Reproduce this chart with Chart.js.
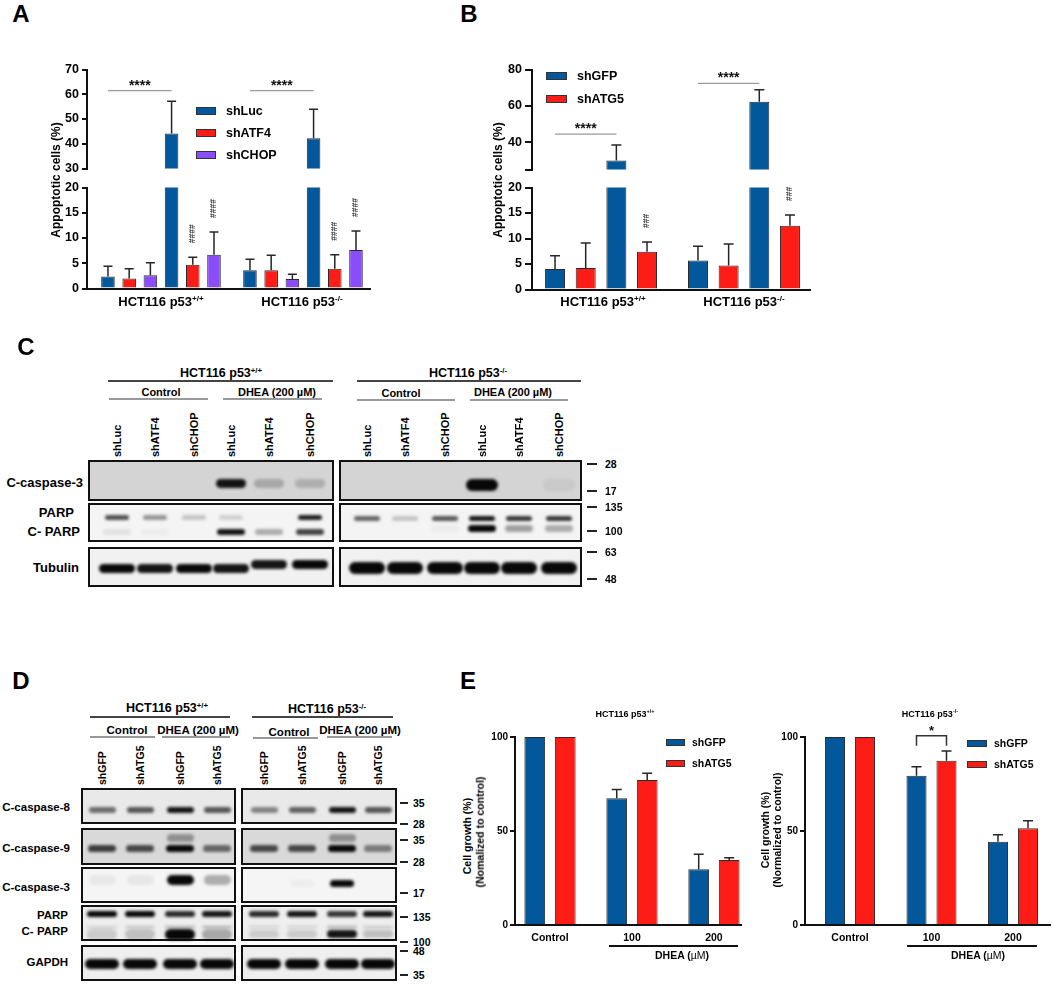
<!DOCTYPE html>
<html>
<head>
<meta charset="utf-8">
<script src="https://cdn.jsdelivr.net/npm/chart.js@4.4.1/dist/chart.umd.min.js"></script>
<style>
body { margin: 0; background: #fff; }
#fig { position: relative; width: 1052px; height: 985px; overflow: hidden; font-family: 'Liberation Sans', Arial, sans-serif; font-weight: bold; color: #000; }
#fig canvas { position: absolute; }
.t, .rt, .lt, .v, .lane { position: absolute; white-space: nowrap; line-height: 1; }
.t { transform: translate(-50%, -50%); }
.rt { transform: translate(-100%, -50%); }
.lt { transform: translate(0, -50%); }
.v { transform: translate(-50%, -50%) rotate(-90deg); }
.lane { transform-origin: 0 0; transform: rotate(-90deg) translate(0, -50%); }
.box { position: absolute; border: 2.5px solid #111; box-sizing: border-box; }
.band { position: absolute; filter: blur(1.4px); }
.hl { position: absolute; }
sup { font-size: 0.62em; vertical-align: 0.55em; line-height: 0; }
</style>
</head>
<body>
<div id="fig"></div>
<script>
const BLUE = '#03579b', RED = '#fd1d16', PURPLE = '#8b4dfb';

// A : apoptotic cells, shLuc / shATF4 / shCHOP, control then DHEA
const cellLines = ['+/+', '-/-'];
const seriesA = ['shLuc', 'shATF4', 'shCHOP', 'shLuc', 'shATF4', 'shCHOP'];
const colorsA = [BLUE, RED, PURPLE, BLUE, RED, PURPLE];
const meanA = [[2.4, 3.6], [2.0, 3.6], [2.6, 1.9], [44.1, 42.2], [4.7, 3.9], [6.7, 7.6]];
const sdA = [[2.0, 2.2], [1.9, 3.0], [2.5, 0.9], [13.1, 11.7], [1.5, 2.8], [4.5, 3.8]];
const markA = ['', '', '', '', '####', '####'];
const sigA = [{ group: 0, from: 0, to: 3, y: 61.5, text: '****' }, { group: 1, from: 0, to: 3, y: 61.5, text: '****' }];

// B : apoptotic cells, shGFP / shATG5
const seriesB = ['shGFP', 'shATG5', 'shGFP', 'shATG5'];
const colorsB = [BLUE, RED, BLUE, RED];
const meanB = [[4.0, 5.7], [4.2, 4.7], [30.0, 62.3], [7.4, 12.5]];
const sdB = [[2.6, 2.8], [4.9, 4.2], [8.5, 6.5], [1.9, 2.1]];
const markB = ['', '', '', '###'];
const sigB = [{ group: 0, from: 0, to: 2, y: 44.5, text: '****' }, { group: 1, from: 0, to: 2, y: 72.4, text: '****' }];

// E : cell growth (% of control)
const doseE = ['Control', '100', '200'];
const seriesE = ['shGFP', 'shATG5'];
const colorsE = [BLUE, RED];
const meanE1 = [[100, 67.4, 29.6], [100, 77.1, 34.6]];
const sdE1 = [[0, 4.7, 8.0], [0, 3.6, 1.2]];
const meanE2 = [[100, 79.4, 44.3], [100, 87.4, 51.4]];
const sdE2 = [[0, 4.8, 3.7], [0, 5.2, 4.1]];

// blots : band intensity per lane, [left blot, right blot]
const lanesC = ['shLuc', 'shATF4', 'shCHOP', 'shLuc', 'shATF4', 'shCHOP'];
const casp3C = [[0, 0, 0, 0.95, 0.22, 0.18], [0, 0, 0, 1, 0, 0.05]];
const parpC = [[0.7, 0.4, 0.2, 0.15, 0, 0.9], [0.6, 0.2, 0.65, 0.95, 0.8, 0.8]];
const cparpC = [[0.08, 0.03, 0, 0.95, 0.3, 0.75], [0, 0, 0.03, 1, 0.35, 0.3]];
const tubC = [[1, 0.95, 1, 0.95, 0.95, 1], [1, 1, 1, 1, 1, 1]];

const lanesD = ['shGFP', 'shATG5', 'shGFP', 'shATG5'];
const casp8D = [[0.55, 0.65, 0.95, 0.65], [0.45, 0.6, 0.95, 0.65]];
const casp9D = [[0.75, 0.7, 1, 0.55], [0.7, 0.7, 1, 0.45]];
const casp9smearD = [[0, 0, 0.35, 0], [0, 0, 0.35, 0]];
const casp3D = [[0.05, 0.06, 1, 0.3], [0, 0.03, 1, 0]];
const parpD = [[1, 1, 0.85, 0.95], [0.85, 0.95, 0.8, 0.95]];
const cparpD = [[0.15, 0.2, 1, 0.3], [0.15, 0.15, 0.95, 0.2]];
const gapdhD = [[1, 1, 1, 1], [1, 1, 1, 1]];

const fig = document.getElementById('fig');
Chart.defaults.font.family = "'Liberation Sans', Arial, sans-serif";
Chart.defaults.font.weight = 'bold';
Chart.defaults.color = '#000';

const errorBars = {
  id: 'errorBars',
  afterDatasetsDraw(chart, args, opt) {
    const ctx = chart.ctx, y = chart.scales.y;
    ctx.save();
    ctx.strokeStyle = '#262626';
    ctx.lineWidth = 1.5;
    chart.data.datasets.forEach((ds, i) => {
      chart.getDatasetMeta(i).data.forEach((bar, j) => {
        const v = ds.data[j].y, e = ds.sd[j];
        if (!e || v > y.max || v + e < y.min) return;
        const top = y.getPixelForValue(Math.min(v + e, y.max));
        const base = y.getPixelForValue(Math.max(v, y.min));
        ctx.beginPath();
        ctx.moveTo(bar.x, base);
        ctx.lineTo(bar.x, top);
        if (v + e <= y.max) {
          ctx.moveTo(bar.x - opt.capW, top);
          ctx.lineTo(bar.x + opt.capW, top);
        }
        ctx.stroke();
      });
    });
    ctx.restore();
  }
};

const annot = {
  id: 'annot',
  afterDatasetsDraw(chart, args, opt) {
    const ctx = chart.ctx, y = chart.scales.y;
    ctx.save();
    (opt.sig || []).forEach(s => {
      const x1 = chart.getDatasetMeta(s.from).data[s.group].x;
      const x2 = chart.getDatasetMeta(s.to).data[s.group].x;
      const py = y.getPixelForValue(s.y);
      ctx.strokeStyle = '#9a9a9a';
      ctx.lineWidth = 1.2;
      ctx.beginPath(); ctx.moveTo(x1, py); ctx.lineTo(x2, py); ctx.stroke();
      ctx.fillStyle = '#111';
      ctx.font = "bold 14px 'Liberation Sans'";
      ctx.textAlign = 'center';
      ctx.textBaseline = 'alphabetic';
      ctx.fillText(s.text, (x1 + x2) / 2, py - 1);
    });
    if (opt.bracket) {
      const b = opt.bracket;
      const x1 = chart.getDatasetMeta(b.from).data[b.index].x;
      const x2 = chart.getDatasetMeta(b.to).data[b.index].x;
      const py = y.getPixelForValue(b.y);
      ctx.strokeStyle = '#333';
      ctx.lineWidth = 1.5;
      ctx.beginPath();
      ctx.moveTo(x1, py + b.leg); ctx.lineTo(x1, py); ctx.lineTo(x2, py); ctx.lineTo(x2, py + b.leg);
      ctx.stroke();
      ctx.fillStyle = '#111';
      ctx.font = "bold 13px 'Liberation Sans'";
      ctx.textAlign = 'center';
      ctx.fillText(b.text, (x1 + x2) / 2, py - 1);
    }
    chart.data.datasets.forEach((ds, i) => {
      if (!ds.mark) return;
      chart.getDatasetMeta(i).data.forEach((bar, j) => {
        const v = ds.data[j].y;
        if (v > y.max) return;
        const top = y.getPixelForValue(v + ds.sd[j]);
        ctx.save();
        ctx.translate(bar.x, top - 14);
        ctx.rotate(-Math.PI / 2);
        ctx.font = "bold 8.5px 'Liberation Sans'";
        ctx.fillStyle = '#3a3a3a';
        ctx.textAlign = 'left';
        ctx.textBaseline = 'middle';
        ctx.fillText(ds.mark, 0, 0);
        ctx.restore();
      });
    });
    ctx.restore();
  }
};

function makeChart(o) {
  const left = o.L - o.yw, top = o.T - o.padT;
  const w = Math.round(o.R + o.padR - left), h = Math.round(o.B + o.xh + o.padB - top);
  const cv = document.createElement('canvas');
  cv.width = w; cv.height = h;
  Object.assign(cv.style, { left: left + 'px', top: top + 'px', width: w + 'px', height: h + 'px' });
  fig.appendChild(cv);
  return new Chart(cv, {
    type: 'bar',
    data: {
      datasets: o.series.map((name, s) => ({
        label: name,
        data: o.cats.map((c, i) => ({ x: i, y: o.mean[s][i] })),
        sd: o.sd[s],
        mark: o.marks ? o.marks[s] : '',
        backgroundColor: o.colors[s],
        borderColor: '#2b2b2b',
        borderWidth: 1,
        categoryPercentage: o.cp,
        barPercentage: o.bp,
        clip: 0
      }))
    },
    options: {
      responsive: false,
      animation: false,
      events: [],
      layout: { padding: { left: 0, top: o.padT, right: o.padR, bottom: o.padB } },
      scales: {
        x: {
          type: 'linear', min: o.xmin, max: o.xmax, offset: false, display: o.xShow,
          afterBuildTicks: s => { s.ticks = o.cats.map((c, i) => ({ value: i })); },
          afterFit: s => { s.height = o.xh; },
          grid: { display: false, drawTicks: false },
          border: { display: true, color: '#111', width: 2 },
          ticks: {
            display: !!o.xlabels, autoSkip: false, maxRotation: 0, padding: 7,
            font: { size: 10.5, weight: 'bold' }, color: '#000',
            callback: v => (o.xlabels ? o.xlabels[v] : '')
          }
        },
        y: {
          min: o.ymin, max: o.ymax,
          afterBuildTicks: s => { s.ticks = o.yticks.map(v => ({ value: v })); },
          afterFit: s => { s.width = o.yw; },
          grid: { display: true, drawOnChartArea: false, drawTicks: true, tickLength: o.tickLen, color: '#111', lineWidth: 2 },
          border: { display: true, color: '#111', width: 2 },
          ticks: {
            padding: o.tickPad, color: '#000', font: { size: o.tickFont, weight: 'bold' },
            callback: v => (o.hide && o.hide.includes(v) ? '' : v)
          }
        }
      },
      plugins: {
        legend: { display: false },
        tooltip: { enabled: false },
        errorBars: { capW: o.capW },
        annot: { sig: o.sig, bracket: o.bracket }
      }
    },
    plugins: [errorBars, annot]
  });
}

// ---- HTML helpers
function el(cls, css, html) {
  const d = document.createElement('div');
  d.className = cls;
  Object.assign(d.style, css);
  if (html != null) d.innerHTML = html;
  fig.appendChild(d);
  return d;
}
function text(cls, x, y, html, size, extra) {
  return el(cls, Object.assign({ left: x + 'px', top: y + 'px', fontSize: size + 'px' }, extra || {}), html);
}
function hline(x1, x2, y, color, w) {
  el('hl', { left: x1 + 'px', top: (y - w / 2) + 'px', width: (x2 - x1) + 'px', height: w + 'px', background: color });
}
function legend(x, ys, w, h, labels, colors, size, lx) {
  labels.forEach((l, i) => {
    el('hl', { left: x + 'px', top: (ys[i] - h / 2) + 'px', width: w + 'px', height: h + 'px', background: colors[i], border: '1px solid #333', boxSizing: 'border-box' });
    text('lt', lx, ys[i], l, size);
  });
}
function gel(x1, x2, y1, y2, bg) {
  el('box', { left: x1 + 'px', top: y1 + 'px', width: (x2 - x1) + 'px', height: (y2 - y1) + 'px', background: bg });
}
function bands(lanes, y, w, h, vals) {
  lanes.forEach((x, i) => {
    const a = vals[i];
    if (!a) return;
    el('band', { left: (x - w / 2) + 'px', top: (y - h / 2) + 'px', width: w + 'px', height: h + 'px', borderRadius: (h / 2) + 'px', background: 'rgba(8,8,8,' + a + ')' });
  });
}
const p53 = c => 'HCT116 p53<sup>' + c + '</sup>';

// ---- panel A
makeChart({ L: 87, R: 370, T: 69, B: 171, yw: 40, xh: 0, padT: 10, padB: 8, padR: 6, ymin: 30, ymax: 70, yticks: [30, 40, 50, 60, 70],
  xmin: -0.521, xmax: 1.472, xShow: false, cats: cellLines, series: seriesA, mean: meanA, sd: sdA, colors: colorsA,
  cp: 0.896, bp: 0.64, tickLen: 5, tickPad: 3, tickFont: 12.5, capW: 4.5, sig: sigA });
makeChart({ L: 87, R: 370, T: 187, B: 289, yw: 40, xh: 2, padT: 10, padB: 8, padR: 6, ymin: 0, ymax: 20, yticks: [0, 5, 10, 15, 20],
  xmin: -0.521, xmax: 1.472, xShow: true, cats: cellLines, series: seriesA, mean: meanA, sd: sdA, marks: markA, colors: colorsA,
  cp: 0.896, bp: 0.64, tickLen: 5, tickPad: 3, tickFont: 12.5, capW: 4.5 });
text('t', 21, 14, 'A', 24);
text('v', 56, 180, 'Appoptotic cells (%)', 12);
text('t', 161, 301, p53(cellLines[0]), 13);
text('t', 302, 301, p53(cellLines[1]), 13);
legend(196, [111, 133, 155], 20, 8, seriesA.slice(0, 3), colorsA.slice(0, 3), 12.5, 226);

// ---- panel B
makeChart({ L: 532, R: 810, T: 69, B: 172, yw: 40, xh: 0, padT: 10, padB: 8, padR: 6, ymin: 25, ymax: 80, yticks: [25, 40, 60, 80], hide: [25],
  xmin: -0.483, xmax: 1.462, xShow: false, cats: cellLines, series: seriesB, mean: meanB, sd: sdB, colors: colorsB,
  cp: 0.858, bp: 0.652, tickLen: 7, tickPad: 3, tickFont: 12.5, capW: 5, sig: sigB });
makeChart({ L: 532, R: 810, T: 187, B: 290, yw: 40, xh: 2, padT: 10, padB: 8, padR: 6, ymin: 0, ymax: 20, yticks: [0, 5, 10, 15, 20],
  xmin: -0.483, xmax: 1.462, xShow: true, cats: cellLines, series: seriesB, mean: meanB, sd: sdB, marks: markB, colors: colorsB,
  cp: 0.858, bp: 0.652, tickLen: 7, tickPad: 3, tickFont: 12.5, capW: 5 });
text('t', 469, 14, 'B', 24);
text('v', 498, 180, 'Appoptotic cells (%)', 12);
text('t', 603, 301, p53(cellLines[0]), 13);
text('t', 744, 301, p53(cellLines[1]), 13);
legend(546, [76, 99], 21, 8, seriesB.slice(0, 2), colorsB.slice(0, 2), 12.5, 577);

// ---- panel C (western blot)
text('t', 26, 347, 'C', 24);
text('t', 221, 373, p53('+/+'), 12.5);
hline(108, 333, 381, '#444', 2);
text('t', 161, 392, 'Control', 11);
hline(109, 208, 399, '#999', 2);
text('t', 277, 392, 'DHEA (200 µM)', 11);
hline(223, 322, 399, '#999', 2);
text('t', 468, 373, p53('-/-'), 12.5);
hline(357, 581, 381, '#444', 2);
text('t', 401, 393, 'Control', 11);
hline(357, 455, 400, '#999', 2);
text('t', 513, 392, 'DHEA (200 µM)', 11);
hline(470, 568, 400, '#999', 2);
const laneXC = [[117, 155, 194, 231, 269, 310], [367, 405, 445, 482, 519, 559]];
laneXC.forEach(xs => xs.forEach((x, i) => text('lane', x, 457, lanesC[i], 11)));
[[88, 334], [339, 582]].forEach(([x1, x2]) => {
  gel(x1, x2, 460, 501, '#d4d4d4');
  gel(x1, x2, 503, 542, '#f4f4f4');
  gel(x1, x2, 547, 587, '#f1f1f1');
});
bands(laneXC[0], 483, 30, 9, casp3C[0]);
bands(laneXC[1], 485, 32, 12, casp3C[1]);
bands(laneXC[0], 517, 24, 5, parpC[0]);
bands(laneXC[1], 518, 26, 5, parpC[1]);
bands(laneXC[0], 532, 28, 6, cparpC[0]);
bands(laneXC[1], 528, 28, 7, cparpC[1]);
bands(laneXC[0].slice(0, 4), 568, 36, 9, tubC[0]);
bands(laneXC[0].slice(4), 564, 36, 9, tubC[0].slice(4));
bands(laneXC[1], 568, 36, 12, tubC[1]);
text('rt', 83, 482, 'C-caspase-3', 13);
text('rt', 74, 512, 'PARP', 13);
text('rt', 80, 531, 'C- PARP', 13);
text('rt', 79, 567, 'Tubulin', 13);
[['28', 464], ['17', 491], ['135', 507], ['100', 531], ['63', 552], ['48', 579]].forEach(([m, y]) => {
  hline(587, 597, y, '#222', 2);
  text('lt', 605, y, m, 10.5);
});

// ---- panel D (western blot)
text('t', 21, 681, 'D', 24);
text('t', 167, 708, p53('+/+'), 12.5);
hline(90, 230, 717, '#444', 2);
text('t', 127, 731, 'Control', 11.5);
hline(90, 155, 737, '#999', 1.5);
text('t', 198, 731, 'DHEA (200 µM)', 11.5);
hline(162, 230, 737, '#999', 1.5);
text('t', 327, 709, p53('-/-'), 12.5);
hline(252, 393, 717, '#444', 2);
text('t', 289, 733, 'Control', 11.5);
hline(253, 318, 738, '#999', 1.5);
text('t', 360, 731, 'DHEA (200 µM)', 11.5);
hline(327, 392, 737, '#999', 1.5);
const laneXD = [[102, 140, 180, 217], [264, 302, 342, 378]];
laneXD.forEach(xs => xs.forEach((x, i) => text('lane', x, 785, lanesD[i], 10.5)));
[[81, 236], [241, 397]].forEach(([x1, x2]) => {
  gel(x1, x2, 788, 824, '#e9e9e9');
  gel(x1, x2, 828, 865, '#d9d9d9');
  gel(x1, x2, 867, 903, '#f5f5f5');
  gel(x1, x2, 905, 941, '#eeeeee');
  gel(x1, x2, 945, 981, '#efefef');
});
laneXD.forEach((xs, s) => {
  bands(xs, 810, 27, 6, casp8D[s]);
  bands(xs, 838, 27, 8, casp9smearD[s]);
  bands(xs, 848, 28, 7, casp9D[s]);
  bands(xs, s ? 883 : 880, s ? 24 : 27, s ? 7 : 10, casp3D[s]);
  bands(xs, 914, 30, 6, parpD[s]);
  bands(xs, 927, 30, 2.5, cparpD[s].map(v => Math.min(v, 0.3)));
  bands(xs, 934, 30, s ? 8 : 11, cparpD[s]);
  bands(xs, 964, 34, 10, gapdhD[s]);
});
text('rt', 70, 808, 'C-caspase-8', 11.5);
text('rt', 70, 849, 'C-caspase-9', 11.5);
text('rt', 70, 888, 'C-caspase-3', 11.5);
text('rt', 68, 916, 'PARP', 11.5);
text('rt', 68, 932, 'C- PARP', 11.5);
text('rt', 68, 963, 'GAPDH', 11.5);
[['35', 803], ['28', 824], ['35', 840], ['28', 862], ['17', 893], ['135', 917], ['100', 942], ['48', 951], ['35', 975]].forEach(([m, y]) => {
  hline(400, 408, y, '#222', 2);
  text('lt', 413, y, m, 10.5);
});

// ---- panel E
makeChart({ L: 515, R: 741, T: 737, B: 925, yw: 40, xh: 22, padT: 28, padB: 2, padR: 4, ymin: 0, ymax: 100, yticks: [0, 50, 100],
  xmin: -0.427, xmax: 2.33, xShow: true, xlabels: doseE, cats: doseE, series: seriesE, mean: meanE1, sd: sdE1, colors: colorsE,
  cp: 0.744, bp: 0.68, tickLen: 5, tickPad: 2, tickFont: 10, capW: 5 });
makeChart({ L: 805, R: 1050, T: 737, B: 925, yw: 40, xh: 22, padT: 28, padB: 2, padR: 2, ymin: 0, ymax: 100, yticks: [0, 50, 100],
  xmin: -0.552, xmax: 2.454, xShow: true, xlabels: doseE, cats: doseE, series: seriesE, mean: meanE2, sd: sdE2, colors: colorsE,
  cp: 0.736, bp: 0.67, tickLen: 5, tickPad: 2, tickFont: 10, capW: 5,
  bracket: { index: 1, from: 0, to: 1, y: 100.6, leg: 10, text: '*' } });
text('t', 468, 681, 'E', 24);
text('t', 625, 714, p53('+/+'), 9);
text('t', 930, 714, p53('-/-'), 9);
text('v', 467, 836, 'Cell growth (%)', 10.5);
text('v', 480, 832, '(Nomalized to control)', 10.5);
text('v', 765, 830, 'Cell growth (%)', 10.5);
text('v', 777, 830, '(Normalized to control)', 10.5);
legend(666, [742, 763], 19, 7, seriesE, colorsE, 10.5, 692);
legend(967, [743, 764], 20, 7, seriesE, colorsE, 10.5, 994);
hline(609, 738, 946, '#111', 1.5);
hline(907, 1037, 946, '#111', 1.5);
const dhea = 'DHEA (<span style="font-weight:normal">µM</span>)';
text('t', 682, 955, dhea, 10.5);
text('t', 978, 955, dhea, 10.5);
</script>
</body>
</html>
